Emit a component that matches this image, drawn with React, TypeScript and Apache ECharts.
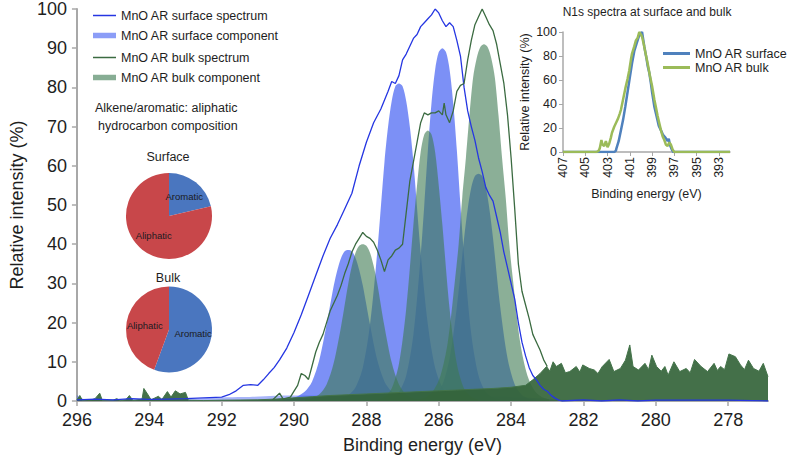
import React, { useEffect, useRef } from "react";
import * as echarts from "echarts";

const FONT = '"Liberation Sans", Arial, Helvetica, sans-serif';

// ---------- main chart: C1s spectra (binding energy in eV, relative intensity in %) ----------
const mainXTicks = [296, 294, 292, 290, 288, 286, 284, 282, 280, 278];

const surfaceSpectrumX = [296.0, 295.5, 295.0, 294.5, 294.0, 293.5, 293.0, 292.5, 292.0, 291.8, 291.6, 291.4, 291.2, 291.0, 290.85, 290.7, 290.55, 290.4, 290.2, 290.0, 289.8, 289.6, 289.4, 289.2, 289.0, 288.8, 288.6, 288.4, 288.2, 288.0, 287.8, 287.6, 287.4, 287.3, 287.2, 287.1, 287.0, 286.9, 286.8, 286.7, 286.6, 286.5, 286.4, 286.3, 286.2, 286.1, 286.0, 285.9, 285.8, 285.7, 285.6, 285.5, 285.4, 285.3, 285.2, 285.1, 285.0, 284.9, 284.8, 284.7, 284.6, 284.5, 284.4, 284.3, 284.2, 284.1, 284.0, 283.9, 283.8, 283.7, 283.6, 283.5, 283.4, 283.3, 283.2, 283.1, 283.0, 282.9, 282.8, 282.7, 282.6, 282.0, 281.5, 281.0, 280.5, 280.0, 279.0, 278.0, 276.9];
const surfaceSpectrumY = [0.3, 0.5, 0.3, 0.6, 0.4, 0.5, 0.6, 0.8, 1.0, 1.6, 2.6, 4.0, 4.2, 4.0, 5.4, 7.0, 8.5, 10.5, 13.5, 17.5, 22, 27, 32, 37, 41.5, 45, 49, 53, 60, 66, 71, 74.5, 79, 81.5, 81, 83, 87, 88.5, 90.5, 92.5, 93.5, 95.5, 96.5, 97.5, 98.5, 100, 99, 97, 95.5, 96.5, 95.5, 92, 88, 80, 74, 70, 66.5, 62, 58.5, 54.5, 52.5, 51, 47, 43, 38, 34, 30, 26, 20, 15, 11.5, 8.5, 6.5, 5.4, 4, 3, 2.5, 1.5, 0.8, 0.3, 0, 0.3, 0, 0.3, 0, 0.2, 0.2, 0.2, 0];

const bulkSpectrumX = [290.6, 290.4, 290.3, 290.1, 290.0, 289.9, 289.8, 289.7, 289.6, 289.5, 289.4, 289.3, 289.2, 289.1, 289.0, 288.9, 288.8, 288.7, 288.6, 288.5, 288.4, 288.3, 288.2, 288.1, 288.0, 287.9, 287.8, 287.7, 287.6, 287.5, 287.4, 287.3, 287.2, 287.1, 287.0, 286.9, 286.8, 286.7, 286.6, 286.5, 286.4, 286.3, 286.2, 286.1, 286.0, 285.9, 285.85, 285.8, 285.7, 285.6, 285.5, 285.4, 285.3, 285.2, 285.1, 285.0, 284.9, 284.8, 284.7, 284.6, 284.5, 284.4, 284.3, 284.2, 284.1, 284.0, 283.9, 283.8, 283.7, 283.6, 283.5, 283.4, 283.3, 283.2, 283.1, 283.0];
const bulkSpectrumY = [0.2, 2, 0.5, 1, 2.5, 4, 7, 6.5, 5.5, 9, 12.5, 15, 17, 20, 23, 25, 27, 29.5, 32.5, 35, 38, 40, 41.5, 43, 42, 41.5, 40.5, 38.5, 36, 33, 36, 37, 38.5, 39, 40, 48, 56, 61, 66, 71, 73.5, 73, 73.5, 73.5, 74, 73, 76, 73, 71, 74, 79, 80.5, 81, 87, 92, 96, 98, 100, 98, 96, 94.5, 91, 86, 81, 73, 62, 49, 35, 28, 24.5, 21, 17, 15, 13, 10.5, 8.8];

// surface components (fitted peaks)
const s1X = [290.3, 290.1, 289.9, 289.7, 289.5, 289.3, 289.1, 288.9, 288.8, 288.7, 288.6, 288.5, 288.4, 288.3, 288.2, 288.1, 287.9, 287.7, 287.5, 287.3, 287.1, 286.9, 286.7];
const s1Y = [0.3, 0.6, 1.2, 2.4, 5.0, 10.5, 19.5, 29.5, 33.5, 36.5, 38.2, 38.5, 38.2, 36.5, 33.5, 29.5, 19.5, 10.5, 5.0, 2.4, 1.2, 0.6, 0.3];
const s2X = [288.7, 288.5, 288.3, 288.1, 287.9, 287.7, 287.5, 287.4, 287.3, 287.2, 287.1, 287.0, 286.9, 286.8, 286.7, 286.5, 286.3, 286.1, 285.9, 285.7, 285.5];
const s2Y = [0.6, 1.5, 3.5, 8.5, 19.5, 38, 61, 70, 76.5, 80.3, 81, 80.3, 76.5, 70, 61, 38, 19.5, 8.5, 3.5, 1.5, 0.6];
const s3X = [287.5, 287.3, 287.1, 286.9, 286.7, 286.5, 286.4, 286.3, 286.2, 286.1, 286.0, 285.9, 285.8, 285.7, 285.6, 285.5, 285.4, 285.3, 285.1, 284.9, 284.7, 284.5, 284.3];
const s3Y = [0.4, 0.9, 2.3, 6.5, 17, 37, 50, 64, 76, 84.5, 89, 90, 89, 84.5, 76, 64, 50, 37, 17, 6.5, 2.3, 0.9, 0.4];
const s4X = [286.5, 286.3, 286.1, 285.9, 285.7, 285.5, 285.3, 285.2, 285.1, 285.0, 284.9, 284.8, 284.7, 284.6, 284.5, 284.3, 284.1, 283.9, 283.7, 283.5, 283.3];
const s4Y = [0.3, 0.6, 1.5, 4.2, 11, 24, 41.5, 49, 54.5, 57.4, 58, 57.4, 54.5, 49, 41.5, 24, 11, 4.2, 1.5, 0.6, 0.3];
const surfaceBgX = [296.0, 295.8, 295.2, 294.5, 293.5, 292.8, 292.0, 291.4, 290.8, 290.2, 289.5, 288.0, 286.5, 285.0, 284.0, 283.0, 282.5, 282.0, 276.9];
const surfaceBgY = [1.5, 0.5, 0.3, 0.5, 0.4, 0.6, 0.9, 1.0, 1.2, 1.4, 1.4, 1.4, 1.3, 1.2, 1.0, 0.6, 0.3, 0.1, 0.1];

// bulk components (fitted peaks)
const b1X = [289.7, 289.5, 289.3, 289.1, 288.9, 288.7, 288.5, 288.4, 288.3, 288.2, 288.1, 288.0, 287.9, 287.8, 287.7, 287.5, 287.3, 287.1, 286.9, 286.7, 286.5];
const b1Y = [0.3, 0.7, 1.7, 4.2, 9.8, 19, 30, 34.5, 37.8, 39.6, 40, 39.6, 37.8, 34.5, 30, 19, 9.8, 4.2, 1.7, 0.7, 0.3];
const b2X = [287.7, 287.5, 287.3, 287.1, 286.9, 286.7, 286.6, 286.5, 286.4, 286.3, 286.2, 286.1, 286.0, 285.9, 285.7, 285.5, 285.3, 285.1, 284.9];
const b2Y = [0.4, 1.1, 3.2, 9.5, 23.5, 45, 55, 63.5, 68, 69, 68, 63.5, 55, 45, 23.5, 9.5, 3.2, 1.1, 0.4];
const b3X = [286.55, 286.35, 286.15, 285.95, 285.75, 285.55, 285.45, 285.35, 285.25, 285.15, 285.05, 284.95, 284.85, 284.75, 284.65, 284.55, 284.45, 284.35, 284.25, 284.15, 284.05, 283.95, 283.75, 283.55, 283.35, 283.15, 282.95];
const b3Y = [0.4, 1.0, 2.6, 6.5, 15, 31, 40, 52, 62, 73, 82.5, 87.5, 90.3, 91, 90.3, 87.5, 82.5, 73, 62, 52, 40, 31, 15, 6.5, 2.6, 1.0, 0.4];
const bulkBgX = [296.0, 295.92, 295.85, 295.6, 295.5, 295.37, 295.3, 295.0, 294.9, 294.8, 294.65, 294.55, 294.45, 294.2, 294.15, 294.05, 293.95, 293.75, 293.65, 293.5, 293.4, 293.28, 293.15, 293.0, 292.92, 292.5, 292.0, 291.0, 290.5, 290.0, 289.5, 289.0, 288.5, 288.0, 287.5, 287.0, 286.5, 286.0, 285.5, 285.0, 284.5, 284.0, 283.6, 283.4, 283.2, 283.02, 282.93, 282.84, 282.75, 282.61, 282.5, 282.38, 282.2, 282.1, 282.02, 281.84, 281.7, 281.6, 281.48, 281.29, 281.16, 280.98, 280.84, 280.72, 280.63, 280.48, 280.3, 280.2, 280.11, 279.98, 279.85, 279.75, 279.66, 279.5, 279.34, 279.16, 279.05, 278.93, 278.75, 278.57, 278.39, 278.3, 278.21, 278.1, 277.98, 277.8, 277.66, 277.55, 277.44, 277.3, 277.15, 277.03, 276.9];
const bulkBgY = [0.3, 1.4, 0.2, 0.3, 0.6, 2.0, 0.2, 0.2, 0.6, 0.1, 0.3, 1.4, 0.1, 0.5, 3.2, 1.8, 0.3, 1.2, 0.4, 2.4, 1.0, 2.6, 1.8, 2.2, 0.2, 0.1, 0.2, 0.3, 0.5, 0.8, 1.1, 1.4, 1.6, 1.8, 2.0, 2.2, 2.4, 2.6, 2.8, 3.0, 3.2, 3.5, 4.0, 5.4, 7.0, 8.8, 7.6, 10, 8.8, 9.6, 7.2, 7.5, 8.8, 7.4, 9.2, 8.3, 7.9, 7.0, 8.8, 10.6, 7.5, 8.3, 10.4, 14.3, 8.8, 7.9, 9.6, 8.0, 11.7, 8.8, 7.6, 8.8, 6.6, 10, 7.5, 8.3, 7.2, 10.6, 8.8, 7.5, 9.6, 7.8, 8.8, 8.0, 12, 11.3, 9.2, 8.0, 10.4, 8.3, 7.6, 9.6, 6.2];

// pie charts: alkene/aromatic vs aliphatic composition (%)
const pieCategories = ["Aromatic", "Aliphatic"];
const surfacePie = [21.4, 78.6];
const bulkPie = [55.6, 44.4];

// ---------- inset: N1s spectra ----------
const insetXTicks = [407, 405, 403, 401, 399, 397, 395, 393];
const n1sSurfaceX = [407, 402.4, 402.25, 402.2, 402.0, 401.8, 401.6, 401.4, 401.2, 401.0, 400.8, 400.6, 400.4, 400.3, 400.2, 400.0, 399.9, 399.8, 399.7, 399.6, 399.5, 399.4, 399.25, 399.1, 399.0, 398.8, 398.6, 398.4, 398.2, 398.0, 397.8, 397.6, 397.5, 397.4, 397.2, 397.1, 392];
const n1sSurfaceY = [0, 0, 1, 3, 9, 18, 27, 38, 50, 62, 74, 84, 90, 93, 96, 99, 100, 94, 88, 83, 78, 72, 66, 57, 50, 38, 30, 22, 18, 14, 12, 9, 11, 6, 1.5, 0, 0];
const n1sBulkX = [407, 404.0, 403.8, 403.7, 403.55, 403.45, 403.3, 403.15, 403.0, 402.85, 402.7, 402.6, 402.4, 402.2, 402.05, 401.9, 401.8, 401.6, 401.4, 401.2, 401.05, 400.9, 400.8, 400.6, 400.45, 400.3, 400.15, 400.0, 399.9, 399.75, 399.6, 399.4, 399.2, 399.0, 398.8, 398.65, 398.5, 398.3, 398.2, 398.05, 397.9, 397.75, 397.6, 397.45, 397.3, 397.15, 397.0, 392];
const n1sBulkY = [0, 0, 1, 3, 10, 6, 5, 9, 4, 7, 12, 16, 21, 25, 28, 32, 35, 44, 53, 61, 68, 77, 82, 88, 93, 95, 100, 98, 96, 90, 83, 74, 64, 55, 44, 37, 30, 22, 18, 13, 10, 6, 5, 8, 6, 2, 0, 0];

const toPairs = (xs: number[], ys: number[]) => xs.map((x, i) => [x, ys[i]]);

const SURF_LINE = "#2536e2";
const SURF_FILL = "rgba(62, 92, 242, 0.68)";
const SURF_LEGEND = "rgba(62, 92, 242, 0.6)";
const BULK_LINE = "#3b6b41";
const BULK_FILL = "rgba(62, 122, 82, 0.6)";
const BULK_LEGEND = "rgba(62, 122, 82, 0.62)";
const BG_GREEN = "rgba(52, 100, 58, 0.92)";
const PIE_BLUE = "#4a76bf";
const PIE_RED = "#c8474a";
const AXIS_GRAY = "#a8a8a8";
const TEXT = "#1e1e1e";

function componentSeries(name: string, xs: number[], ys: number[], color: string) {
  return {
    name,
    type: "line",
    xAxisIndex: 0,
    yAxisIndex: 0,
    data: toPairs(xs, ys),
    smooth: 0.3,
    symbol: "none",
    lineStyle: { width: 0, opacity: 0 },
    areaStyle: { color, opacity: 1 },
    itemStyle: { color },
    silent: true,
  };
}

function makeLegend(name: string, top: number, left: number, w: number, h: number, color: string) {
  return {
    data: [{ name, icon: "rect", itemStyle: { color } }],
    left,
    top,
    padding: 0,
    itemWidth: w,
    itemHeight: h,
    selectedMode: false,
    textStyle: { fontSize: 12.5, color: TEXT, fontFamily: FONT },
  };
}

function pieSeries(center: number[], values: number[]) {
  return {
    type: "pie",
    center,
    radius: 43,
    startAngle: 90,
    clockwise: true,
    silent: true,
    label: { show: true, position: "inside", fontSize: 9.5, color: "#1b1b22", fontFamily: FONT },
    labelLine: { show: false },
    itemStyle: { borderWidth: 0 },
    data: pieCategories.map((c, i) => ({
      name: c,
      value: values[i],
      itemStyle: { color: i === 0 ? PIE_BLUE : PIE_RED },
    })),
  };
}

function textEl(text: string, x: number, y: number, size: number, align: string) {
  return {
    type: "text",
    x,
    y,
    silent: true,
    style: {
      text,
      fill: TEXT,
      font: `${size}px ${FONT}`,
      textAlign: align,
      textVerticalAlign: "middle",
      align,
      verticalAlign: "middle",
    },
  };
}

export default function App() {
  const ref = useRef<HTMLDivElement>(null);
  useEffect(() => {
    if (!ref.current) return;
    const chart = echarts.init(ref.current, undefined, { renderer: "svg" });
    const option: any = {
      animation: false,
      backgroundColor: "#ffffff",
      textStyle: { fontFamily: FONT },
      grid: [
        { left: 67, right: 20, top: 9, bottom: 61 },
        { left: 563, right: 58, top: 32, bottom: 310 },
      ],
      xAxis: [
        {
          type: "value",
          gridIndex: 0,
          min: 276.9,
          max: 296,
          inverse: true,
          name: "Binding energy (eV)",
          nameLocation: "middle",
          nameGap: 35,
          nameTextStyle: { fontSize: 18, color: TEXT },
          axisLine: { show: true, lineStyle: { color: AXIS_GRAY, width: 2 } },
          axisTick: { show: true, customValues: mainXTicks, length: 5, lineStyle: { color: AXIS_GRAY, width: 1.5 } },
          axisLabel: { customValues: mainXTicks, fontSize: 18, color: TEXT, margin: 10 },
          splitLine: { show: false },
        },
        {
          type: "value",
          gridIndex: 1,
          min: 392,
          max: 407,
          inverse: true,
          name: "Binding energy (eV)",
          nameLocation: "middle",
          nameGap: 35,
          nameTextStyle: { fontSize: 12.5, color: TEXT },
          axisLine: { show: true, lineStyle: { color: AXIS_GRAY, width: 1.5 } },
          axisTick: { show: true, customValues: insetXTicks, length: 4, lineStyle: { color: AXIS_GRAY } },
          axisLabel: { customValues: insetXTicks, fontSize: 12.5, color: TEXT, rotate: 90, margin: 5 },
          splitLine: { show: false },
        },
      ],
      yAxis: [
        {
          type: "value",
          gridIndex: 0,
          min: 0,
          max: 100,
          interval: 10,
          name: "Relative intensity (%)",
          nameLocation: "middle",
          nameGap: 40,
          nameTextStyle: { fontSize: 18, color: TEXT },
          axisLine: { show: true, lineStyle: { color: AXIS_GRAY, width: 2 } },
          axisTick: { show: true, length: 5, lineStyle: { color: AXIS_GRAY, width: 1.5 } },
          axisLabel: { fontSize: 18, color: TEXT, margin: 10 },
          splitLine: { show: false },
        },
        {
          type: "value",
          gridIndex: 1,
          min: 0,
          max: 100,
          interval: 20,
          name: "Relative intensity (%)",
          nameLocation: "middle",
          nameGap: 32,
          nameTextStyle: { fontSize: 12.5, color: TEXT },
          axisLine: { show: true, lineStyle: { color: AXIS_GRAY, width: 1.5 } },
          axisTick: { show: true, length: 4, lineStyle: { color: AXIS_GRAY } },
          axisLabel: { fontSize: 12.5, color: TEXT, margin: 6 },
          splitLine: { show: false },
        },
      ],
      legend: [
        makeLegend("MnO AR surface spectrum", 9, 93, 23, 1.5, SURF_LINE),
        makeLegend("MnO AR surface component", 29, 93, 23, 5.5, SURF_LEGEND),
        makeLegend("MnO AR bulk spectrum", 51, 93, 23, 1.5, BULK_LINE),
        makeLegend("MnO AR bulk component", 71, 93, 23, 5.5, BULK_LEGEND),
        makeLegend("MnO AR surface", 47, 663, 27, 3, "#4f81bd"),
        makeLegend("MnO AR bulk", 61, 663, 27, 3, "#9bbb59"),
      ],
      graphic: [
        textEl("Alkene/aromatic: aliphatic", 95, 108, 12.5, "left"),
        textEl("hydrocarbon composition", 98, 126, 12.5, "left"),
        textEl("Surface", 168, 157, 12.5, "center"),
        textEl("Bulk", 168, 278, 12.5, "center"),
        textEl("N1s spectra at surface and bulk", 647, 12, 12, "center"),
      ],
      series: [
        componentSeries("MnO AR surface component", surfaceBgX, surfaceBgY, "rgba(62, 92, 242, 0.45)"),
        componentSeries("MnO AR surface component", s1X, s1Y, SURF_FILL),
        componentSeries("MnO AR surface component", s2X, s2Y, SURF_FILL),
        componentSeries("MnO AR surface component", s3X, s3Y, SURF_FILL),
        componentSeries("MnO AR surface component", s4X, s4Y, SURF_FILL),
        componentSeries("MnO AR bulk component", b1X, b1Y, BULK_FILL),
        componentSeries("MnO AR bulk component", b2X, b2Y, BULK_FILL),
        componentSeries("MnO AR bulk component", b3X, b3Y, BULK_FILL),
        {
          name: "MnO AR bulk component",
          type: "line",
          xAxisIndex: 0,
          yAxisIndex: 0,
          data: toPairs(bulkBgX, bulkBgY),
          symbol: "none",
          lineStyle: { width: 1, color: "#44744a" },
          areaStyle: { color: BG_GREEN, opacity: 1 },
          itemStyle: { color: BG_GREEN },
          silent: true,
        },
        {
          name: "MnO AR surface spectrum",
          type: "line",
          xAxisIndex: 0,
          yAxisIndex: 0,
          data: toPairs(surfaceSpectrumX, surfaceSpectrumY),
          symbol: "none",
          lineStyle: { width: 1.3, color: SURF_LINE },
          itemStyle: { color: SURF_LINE },
          silent: true,
        },
        {
          name: "MnO AR bulk spectrum",
          type: "line",
          xAxisIndex: 0,
          yAxisIndex: 0,
          data: toPairs(bulkSpectrumX, bulkSpectrumY),
          symbol: "none",
          lineStyle: { width: 1.3, color: BULK_LINE },
          itemStyle: { color: BULK_LINE },
          silent: true,
        },
        {
          name: "MnO AR surface",
          type: "line",
          xAxisIndex: 1,
          yAxisIndex: 1,
          data: toPairs(n1sSurfaceX, n1sSurfaceY),
          symbol: "none",
          lineStyle: { width: 2.5, color: "#4f81bd" },
          itemStyle: { color: "#4f81bd" },
          silent: true,
        },
        {
          name: "MnO AR bulk",
          type: "line",
          xAxisIndex: 1,
          yAxisIndex: 1,
          data: toPairs(n1sBulkX, n1sBulkY),
          symbol: "none",
          lineStyle: { width: 2.5, color: "#9bbb59" },
          itemStyle: { color: "#9bbb59" },
          silent: true,
        },
        pieSeries([169, 216], surfacePie),
        pieSeries([169, 329.5], bulkPie),
      ],
    };
    chart.setOption(option);
    return () => chart.dispose();
  }, []);
  return <div ref={ref} style={{ width: 788, height: 462, position: "absolute", left: 0, top: 0 }} />;
}
